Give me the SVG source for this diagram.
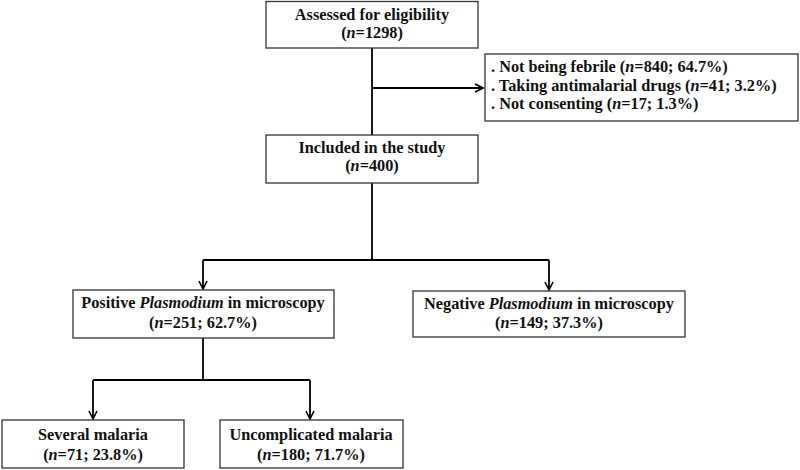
<svg xmlns="http://www.w3.org/2000/svg" width="800" height="470" viewBox="0 0 800 470">
<style>
.box{fill:#fff;stroke:#333;stroke-width:1.3}
text{font-family:"Liberation Serif","Times New Roman",serif;font-weight:bold;font-size:16.3px;fill:#111}
.c{text-anchor:middle}
.ln{fill:none;stroke:#000;stroke-width:1.8}
</style>
<defs>
<marker id="ar" viewBox="0 0 10 10" refX="9" refY="5" markerWidth="10" markerHeight="10" markerUnits="userSpaceOnUse" orient="auto">
<path d="M1,1 L9,5 L1,9" fill="none" stroke="#000" stroke-width="1.6"/>
</marker>
</defs>
<rect width="800" height="470" fill="#fff"/>
<g id="connectors">
<path class="ln" d="M372,48 V135"/>
<path class="ln" d="M372,88 H483" marker-end="url(#ar)"/>
<path class="ln" d="M372,183 V260"/>
<path class="ln" d="M203,260 H549"/>
<path class="ln" d="M203,260 V289" marker-end="url(#ar)"/>
<path class="ln" d="M549,260 V290" marker-end="url(#ar)"/>
<path class="ln" d="M203,338 V380"/>
<path class="ln" d="M93,380 H310"/>
<path class="ln" d="M93,380 V419" marker-end="url(#ar)"/>
<path class="ln" d="M310,380 V419" marker-end="url(#ar)"/>
</g>
<g id="assessed">
<rect class="box" x="266" y="1.5" width="212" height="46.5"/>
<text class="c" x="372" y="20">Assessed for eligibility</text>
<text class="c" x="372" y="38">(<tspan font-style="italic">n</tspan>=1298)</text>
</g>
<g id="excluded">
<rect class="box" x="485" y="54" width="313" height="67"/>
<text x="491" y="72">. Not being febrile (<tspan font-style="italic">n</tspan>=840; 64.7%)</text>
<text x="491" y="91">. Taking antimalarial drugs (<tspan font-style="italic">n</tspan>=41; 3.2%)</text>
<text x="491" y="109">. Not consenting (<tspan font-style="italic">n</tspan>=17; 1.3%)</text>
</g>
<g id="included">
<rect class="box" x="266" y="135" width="212" height="48"/>
<text class="c" x="372" y="153">Included in the study</text>
<text class="c" x="372" y="171">(<tspan font-style="italic">n</tspan>=400)</text>
</g>
<g id="positive">
<rect class="box" x="73" y="290" width="261" height="48"/>
<text class="c" x="203" y="308">Positive <tspan font-style="italic">Plasmodium</tspan> in microscopy</text>
<text class="c" x="203" y="328">(<tspan font-style="italic">n</tspan>=251; 62.7%)</text>
</g>
<g id="negative">
<rect class="box" x="413" y="291" width="272" height="46"/>
<text class="c" x="549" y="309">Negative <tspan font-style="italic">Plasmodium</tspan> in microscopy</text>
<text class="c" x="549" y="328">(<tspan font-style="italic">n</tspan>=149; 37.3%)</text>
</g>
<g id="severe">
<rect class="box" x="2" y="420" width="182" height="48"/>
<text class="c" x="93" y="440">Several malaria</text>
<text class="c" x="93" y="460">(<tspan font-style="italic">n</tspan>=71; 23.8%)</text>
</g>
<g id="uncomplicated">
<rect class="box" x="220" y="420" width="183" height="48"/>
<text class="c" x="311" y="440">Uncomplicated malaria</text>
<text class="c" x="311" y="460">(<tspan font-style="italic">n</tspan>=180; 71.7%)</text>
</g>
</svg>
